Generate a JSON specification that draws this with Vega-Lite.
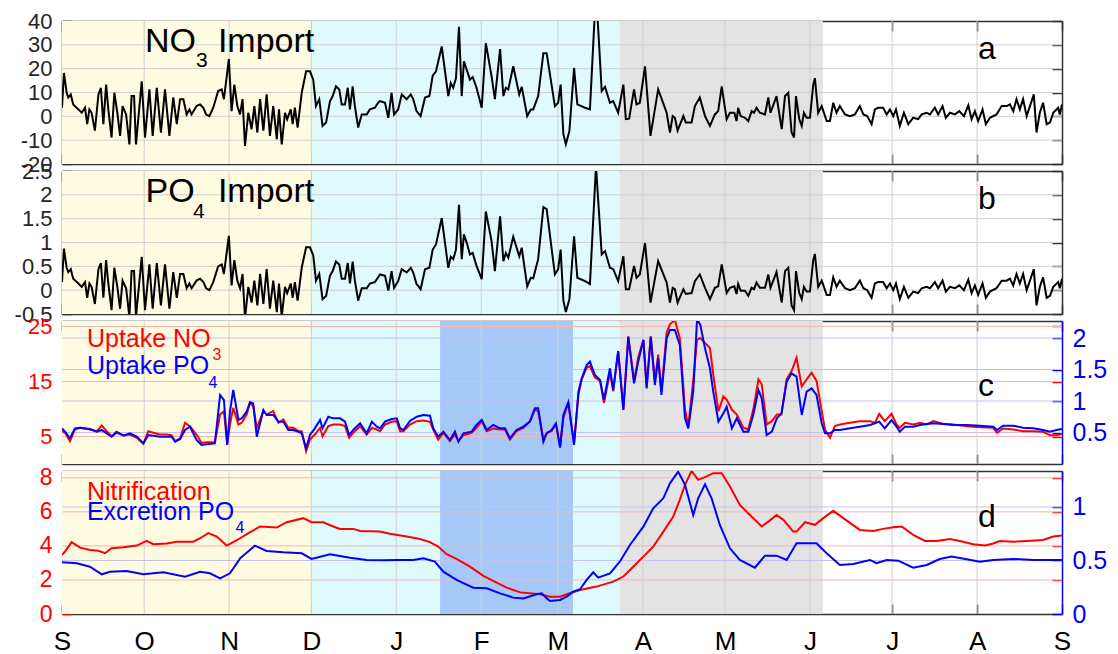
{
"$schema": "https://vega.github.io/schema/vega-lite/v6.json",
"background": "white",
"padding": {"left": 7, "top": 10, "right": 5, "bottom": 0},
"spacing": 7,
"bounds": "flush",
"config": {
  "view": {"stroke": null},
  "axis": {"grid": false, "minExtent": 0, "labelFont": "Liberation Sans", "labelFontSize": 22, "labelOverlap": false, "labelFlush": false, "labelBound": false, "tickSize": -10, "tickWidth": 1.5, "domainWidth": 1.5, "domainColor": "#333333", "tickColor": "#333333", "labelColor": "#262626", "zindex": 1, "labelPadding": 20, "labelExpr": "'' + datum.value"},
  "text": {"font": "Liberation Sans"}
},
"datasets": {
  "bg": [{"s":0,"e":91.1,"c":"#FFFBE1","k":"y"},{"s":91.1,"e":203.6,"c":"#DFFAFD","k":"c"},{"s":203.6,"e":277.7,"c":"#E3E3E3","k":"g"},{"s":138,"e":186.5,"c":"#A5C8F6","k":"b"}],
  "mon": [{"m":30},{"m":61},{"m":91},{"m":122},{"m":153},{"m":181},{"m":212},{"m":242},{"m":273},{"m":303},{"m":334}],
  "imp": [{"d":0,"n":3.6,"p":0.17},{"d":0.7,"n":18.2,"p":0.87},{"d":1.7,"n":9.9,"p":0.47},{"d":2.3,"n":7.9,"p":0.38},{"d":3.2,"n":9.2,"p":0.44},{"d":4.1,"n":5.0,"p":0.24},{"d":6.0,"n":2.9,"p":0.14},{"d":7.2,"n":1.5,"p":0.07},{"d":8.4,"n":3.6,"p":0.17},{"d":9.2,"n":-3.3,"p":-0.16},{"d":10.0,"n":2.9,"p":0.14},{"d":10.8,"n":1.5,"p":0.07},{"d":12.0,"n":-6.0,"p":-0.29},{"d":13.3,"n":9.2,"p":0.44},{"d":14.2,"n":11.9,"p":0.57},{"d":15.1,"n":-3.3,"p":-0.16},{"d":16.1,"n":13.3,"p":0.63},{"d":16.9,"n":2.9,"p":0.14},{"d":18.1,"n":-8.9,"p":-0.42},{"d":19.1,"n":9.9,"p":0.47},{"d":20.2,"n":1.5,"p":0.07},{"d":21.2,"n":-8.2,"p":-0.39},{"d":22.1,"n":4.3,"p":0.2},{"d":23.4,"n":0.8,"p":0.04},{"d":24.6,"n":-11.8,"p":-0.56},{"d":25.4,"n":8.5,"p":0.4},{"d":26.3,"n":8.5,"p":0.4},{"d":27.0,"n":-11.8,"p":-0.56},{"d":29.1,"n":14.7,"p":0.7},{"d":30.3,"n":-8.9,"p":-0.42},{"d":31.9,"n":11.3,"p":0.54},{"d":33.1,"n":-8.2,"p":-0.39},{"d":34.6,"n":12.0,"p":0.57},{"d":36.1,"n":-6.8,"p":-0.32},{"d":37.6,"n":11.3,"p":0.54},{"d":39.2,"n":-8.2,"p":-0.39},{"d":40.6,"n":7.9,"p":0.38},{"d":41.9,"n":-3.3,"p":-0.16},{"d":43.1,"n":7.2,"p":0.34},{"d":44.3,"n":7.2,"p":0.34},{"d":45.5,"n":0.8,"p":0.04},{"d":46.5,"n":2.9,"p":0.14},{"d":47.3,"n":0.8,"p":0.04},{"d":49.1,"n":4.3,"p":0.2},{"d":50.4,"n":5.0,"p":0.24},{"d":51.6,"n":3.6,"p":0.17},{"d":52.6,"n":0.8,"p":0.04},{"d":53.8,"n":0.1,"p":0.0},{"d":55.2,"n":3.6,"p":0.17},{"d":57.0,"n":10.6,"p":0.5},{"d":58.3,"n":11.3,"p":0.54},{"d":59.1,"n":7.2,"p":0.34},{"d":60.9,"n":24.0,"p":1.14},{"d":61.9,"n":2.2,"p":0.1},{"d":62.9,"n":13.3,"p":0.63},{"d":64.0,"n":4.3,"p":0.2},{"d":65.0,"n":0.8,"p":0.04},{"d":65.9,"n":7.2,"p":0.34},{"d":66.8,"n":-12.4,"p":-0.59},{"d":68.0,"n":1.5,"p":0.07},{"d":69.2,"n":-5.4,"p":-0.26},{"d":70.2,"n":4.3,"p":0.2},{"d":71.3,"n":-6.8,"p":-0.32},{"d":72.3,"n":7.2,"p":0.34},{"d":73.5,"n":-6.0,"p":-0.29},{"d":74.7,"n":9.2,"p":0.44},{"d":75.9,"n":-8.2,"p":-0.39},{"d":77.1,"n":4.3,"p":0.2},{"d":78.4,"n":-9.6,"p":-0.46},{"d":79.2,"n":2.9,"p":0.14},{"d":80.2,"n":-11.8,"p":-0.56},{"d":81.4,"n":1.5,"p":0.07},{"d":82.2,"n":-1.2,"p":-0.06},{"d":83.5,"n":2.9,"p":0.14},{"d":84.2,"n":-3.3,"p":-0.16},{"d":85.0,"n":3.6,"p":0.17},{"d":86.0,"n":-4.7,"p":-0.22},{"d":87.5,"n":9.9,"p":0.47},{"d":89.1,"n":18.9,"p":0.9},{"d":90.5,"n":18.9,"p":0.9},{"d":91.7,"n":15.4,"p":0.73},{"d":92.7,"n":4.3,"p":0.2},{"d":93.9,"n":7.2,"p":0.34},{"d":95.1,"n":-4.0,"p":-0.19},{"d":96.4,"n":-2.6,"p":-0.12},{"d":97.8,"n":6.3,"p":0.3},{"d":98.8,"n":8.5,"p":0.4},{"d":100.0,"n":12.6,"p":0.6},{"d":101.2,"n":11.3,"p":0.54},{"d":102.1,"n":5.0,"p":0.24},{"d":103.3,"n":5.0,"p":0.24},{"d":104.3,"n":12.0,"p":0.57},{"d":105.1,"n":2.9,"p":0.14},{"d":106.1,"n":12.6,"p":0.6},{"d":106.9,"n":4.3,"p":0.2},{"d":108.1,"n":-4.7,"p":-0.22},{"d":109.4,"n":0.8,"p":0.04},{"d":111.2,"n":0.8,"p":0.04},{"d":112.4,"n":2.9,"p":0.14},{"d":114.2,"n":3.6,"p":0.17},{"d":115.4,"n":5.7,"p":0.27},{"d":116.1,"n":6.4,"p":0.33},{"d":117.9,"n":5.7,"p":0.3},{"d":119.1,"n":-0.6,"p":-0.01},{"d":120.3,"n":9.9,"p":0.4},{"d":121.2,"n":0.8,"p":0.05},{"d":122.7,"n":2.9,"p":0.19},{"d":124.0,"n":9.2,"p":0.44},{"d":125.8,"n":7.2,"p":0.37},{"d":127.3,"n":9.2,"p":0.47},{"d":128.2,"n":7.2,"p":0.37},{"d":129.4,"n":2.2,"p":0.13},{"d":130.9,"n":0.1,"p":0.02},{"d":132.5,"n":7.9,"p":0.44},{"d":134.1,"n":8.5,"p":0.47},{"d":135.3,"n":17.1,"p":0.85},{"d":136.5,"n":18.9,"p":0.96},{"d":138.6,"n":29.3,"p":1.51},{"d":141.0,"n":8.5,"p":0.47},{"d":141.9,"n":14.0,"p":0.7},{"d":142.8,"n":12.0,"p":0.65},{"d":143.8,"n":16.0,"p":0.85},{"d":144.9,"n":37.6,"p":1.79},{"d":145.9,"n":8.5,"p":0.65},{"d":146.7,"n":23.1,"p":1.17},{"d":147.9,"n":18.9,"p":0.96},{"d":148.9,"n":15.4,"p":0.75},{"d":149.9,"n":16.5,"p":0.78},{"d":151.3,"n":12.0,"p":0.51},{"d":153.2,"n":3.6,"p":0.23},{"d":154.7,"n":30.7,"p":1.65},{"d":156.8,"n":16.8,"p":1.03},{"d":158.0,"n":7.2,"p":0.4},{"d":159.9,"n":28.2,"p":1.55},{"d":161.1,"n":8.5,"p":0.61},{"d":162.0,"n":12.0,"p":0.78},{"d":162.9,"n":11.3,"p":0.68},{"d":164.7,"n":21.0,"p":1.12},{"d":166.9,"n":9.2,"p":0.71},{"d":167.8,"n":12.4,"p":0.89},{"d":169.8,"n":0.1,"p":0.08},{"d":171.1,"n":2.9,"p":0.26},{"d":172.0,"n":2.9,"p":0.25},{"d":173.8,"n":8.5,"p":0.65},{"d":175.7,"n":26.5,"p":1.74},{"d":176.9,"n":26.5,"p":1.7},{"d":179.9,"n":4.3,"p":0.33},{"d":181.1,"n":5.7,"p":0.44},{"d":182.0,"n":13.3,"p":0.85},{"d":183.0,"n":-7.5,"p":-0.22},{"d":183.9,"n":-11.7,"p":-0.46},{"d":185.2,"n":-6.2,"p":-0.19},{"d":186.9,"n":20.3,"p":1.13},{"d":188.1,"n":5.0,"p":0.26},{"d":190.9,"n":3.6,"p":0.19},{"d":192.7,"n":2.9,"p":0.13},{"d":194.9,"n":53,"p":2.6},{"d":197.0,"n":10.6,"p":0.75},{"d":198.2,"n":12.4,"p":0.82},{"d":200.0,"n":5.7,"p":0.47},{"d":201.2,"n":6.4,"p":0.44},{"d":203.0,"n":1.5,"p":0.19},{"d":204.9,"n":13.3,"p":0.71},{"d":205.8,"n":-1.2,"p":0.02},{"d":207.0,"n":-1.0,"p":0.02},{"d":208.8,"n":11.3,"p":0.51},{"d":209.7,"n":5.0,"p":0.26},{"d":210.9,"n":5.7,"p":0.33},{"d":212.8,"n":21.0,"p":0.99},{"d":214.8,"n":-8.2,"p":-0.26},{"d":217.6,"n":11.3,"p":0.61},{"d":220.7,"n":1.5,"p":0.16},{"d":221.9,"n":-6.8,"p":-0.26},{"d":222.9,"n":0.1,"p":0.05},{"d":223.7,"n":-0.6,"p":0.02},{"d":224.7,"n":-6.0,"p":-0.26},{"d":226.8,"n":0.1,"p":0.02},{"d":227.7,"n":-2.6,"p":-0.08},{"d":229.8,"n":-2.6,"p":-0.06},{"d":231.0,"n":4.3,"p":0.19},{"d":232.8,"n":7.9,"p":0.33},{"d":234.7,"n":0.1,"p":0.05},{"d":236.5,"n":-4.0,"p":-0.19},{"d":238.3,"n":0.8,"p":0.05},{"d":239.5,"n":2.2,"p":0.08},{"d":240.8,"n":12.6,"p":0.54},{"d":242.6,"n":-1.2,"p":-0.06},{"d":243.8,"n":1.5,"p":0.05},{"d":245.4,"n":1.5,"p":0.08},{"d":246.2,"n":-2.0,"p":-0.08},{"d":246.8,"n":3.6,"p":0.13},{"d":247.7,"n":0.1,"p":-0.01},{"d":249.3,"n":-0.6,"p":-0.01},{"d":250.5,"n":-2.0,"p":-0.12},{"d":251.7,"n":2.2,"p":0.05},{"d":252.6,"n":1.5,"p":0.02},{"d":253.5,"n":3.6,"p":0.16},{"d":254.7,"n":1.5,"p":0.05},{"d":256.6,"n":0.8,"p":0.05},{"d":257.8,"n":7.9,"p":0.33},{"d":258.6,"n":1.5,"p":0.05},{"d":260.8,"n":8.5,"p":0.38},{"d":262.7,"n":-5.4,"p":-0.26},{"d":263.9,"n":8.5,"p":0.4},{"d":265.1,"n":9.9,"p":0.47},{"d":266.3,"n":-6.8,"p":-0.32},{"d":267.2,"n":-8.9,"p":-0.42},{"d":267.9,"n":8.5,"p":0.4},{"d":269.1,"n":-1.2,"p":-0.06},{"d":270.0,"n":-4.0,"p":-0.19},{"d":270.8,"n":1.5,"p":0.07},{"d":271.8,"n":-0.6,"p":-0.03},{"d":273.0,"n":-0.6,"p":-0.03},{"d":274.2,"n":13.3,"p":0.63},{"d":274.8,"n":16.0,"p":0.76},{"d":276.0,"n":1.5,"p":0.07},{"d":277.3,"n":4.3,"p":0.2},{"d":278.1,"n":1.5,"p":0.07},{"d":279.1,"n":-2.0,"p":-0.1},{"d":280.3,"n":-2.0,"p":-0.1},{"d":281.5,"n":5.7,"p":0.27},{"d":282.7,"n":1.5,"p":0.07},{"d":283.9,"n":4.3,"p":0.2},{"d":285.8,"n":0.8,"p":0.04},{"d":287.6,"n":0.1,"p":0.0},{"d":289.4,"n":0.8,"p":0.04},{"d":291.2,"n":4.3,"p":0.2},{"d":292.5,"n":0.8,"p":0.04},{"d":293.9,"n":0.1,"p":0.0},{"d":295.5,"n":-3.3,"p":-0.16},{"d":296.7,"n":2.9,"p":0.14},{"d":297.9,"n":3.6,"p":0.17},{"d":299.7,"n":3.6,"p":0.17},{"d":301.0,"n":0.8,"p":0.04},{"d":302.2,"n":2.9,"p":0.14},{"d":303.4,"n":0.1,"p":0.0},{"d":304.4,"n":2.9,"p":0.14},{"d":305.8,"n":-4.0,"p":-0.19},{"d":307.3,"n":1.5,"p":0.07},{"d":308.9,"n":-3.3,"p":-0.16},{"d":310.7,"n":-0.6,"p":-0.03},{"d":312.5,"n":-1.2,"p":-0.06},{"d":313.8,"n":0.8,"p":0.04},{"d":315.6,"n":1.5,"p":0.07},{"d":316.8,"n":0.8,"p":0.04},{"d":318.6,"n":3.6,"p":0.17},{"d":319.8,"n":0.8,"p":0.04},{"d":321.4,"n":4.3,"p":0.2},{"d":322.6,"n":-0.6,"p":-0.03},{"d":324.1,"n":1.5,"p":0.07},{"d":325.9,"n":0.8,"p":0.04},{"d":327.5,"n":2.2,"p":0.1},{"d":329.2,"n":0.1,"p":0.0},{"d":330.8,"n":4.6,"p":0.22},{"d":332.0,"n":-1.2,"p":-0.06},{"d":333.2,"n":2.2,"p":0.1},{"d":334.4,"n":-2.0,"p":-0.1},{"d":336.0,"n":2.9,"p":0.14},{"d":337.2,"n":-3.3,"p":-0.16},{"d":338.7,"n":-0.6,"p":-0.03},{"d":341.1,"n":0.8,"p":0.04},{"d":343.0,"n":4.3,"p":0.2},{"d":344.8,"n":4.3,"p":0.2},{"d":346.0,"n":5.0,"p":0.24},{"d":347.2,"n":2.2,"p":0.1},{"d":348.4,"n":7.2,"p":0.34},{"d":349.6,"n":2.9,"p":0.14},{"d":350.8,"n":7.2,"p":0.34},{"d":352.1,"n":0.1,"p":0.0},{"d":353.3,"n":4.3,"p":0.2},{"d":354.7,"n":9.2,"p":0.44},{"d":355.7,"n":-6.8,"p":-0.32},{"d":356.9,"n":1.5,"p":0.07},{"d":358.1,"n":5.7,"p":0.27},{"d":359.4,"n":-3.3,"p":-0.16},{"d":360.6,"n":-2.6,"p":-0.12},{"d":361.8,"n":1.5,"p":0.07},{"d":363.6,"n":3.6,"p":0.17},{"d":364.2,"n":0.8,"p":0.04},{"d":365,"n":5.0,"p":0.24}],
  "upt": [{"d":0,"r":5.97,"b":0.566},{"d":1.1,"r":5.67,"b":0.513},{"d":2.9,"r":4.15,"b":0.407},{"d":4.7,"r":6.27,"b":0.566},{"d":6.6,"r":6.58,"b":0.577},{"d":10.2,"r":6.27,"b":0.556},{"d":12.7,"r":5.97,"b":0.513},{"d":14.5,"r":7.0,"b":0.54},{"d":16.3,"r":5.97,"b":0.487},{"d":18.1,"r":5.06,"b":0.434},{"d":19.9,"r":5.67,"b":0.513},{"d":22.4,"r":5.24,"b":0.45},{"d":24.8,"r":5.36,"b":0.487},{"d":27.3,"r":4.76,"b":0.434},{"d":29.7,"r":3.67,"b":0.328},{"d":31.5,"r":5.97,"b":0.46},{"d":33.3,"r":5.67,"b":0.45},{"d":35.8,"r":5.36,"b":0.434},{"d":38.2,"r":5.36,"b":0.434},{"d":40,"r":5.24,"b":0.434},{"d":41.3,"r":4.15,"b":0.354},{"d":43.1,"r":4.64,"b":0.397},{"d":44.9,"r":7.48,"b":0.54},{"d":46.7,"r":6.88,"b":0.593},{"d":49.1,"r":5.36,"b":0.381},{"d":50.9,"r":3.85,"b":0.302},{"d":52.8,"r":3.97,"b":0.312},{"d":55.8,"r":3.97,"b":0.328},{"d":57.7,"r":9.0,"b":1.095},{"d":59.1,"r":9.6,"b":1.016},{"d":60.3,"r":3.55,"b":0.302},{"d":61.3,"r":7.18,"b":0.83},{"d":62.5,"r":10.2,"b":1.175},{"d":64.4,"r":7.18,"b":0.698},{"d":65.6,"r":7.48,"b":0.725},{"d":67.4,"r":9.0,"b":0.83},{"d":68.6,"r":11.1,"b":0.979},{"d":69.8,"r":10.5,"b":0.963},{"d":71.1,"r":6.58,"b":0.434},{"d":73.5,"r":9.6,"b":0.857},{"d":74.7,"r":9.0,"b":0.778},{"d":77.1,"r":9.6,"b":0.778},{"d":79,"r":7.48,"b":0.672},{"d":80.8,"r":8.09,"b":0.672},{"d":82.6,"r":6.58,"b":0.54},{"d":84.4,"r":6.58,"b":0.54},{"d":86.3,"r":5.97,"b":0.513},{"d":87.5,"r":5.97,"b":0.487},{"d":89.1,"r":2.33,"b":0.249},{"d":90.5,"r":4.45,"b":0.46},{"d":92.3,"r":5.36,"b":0.566},{"d":94.2,"r":6.58,"b":0.698},{"d":95.1,"r":5.06,"b":0.566},{"d":97.2,"r":6.88,"b":0.751},{"d":99,"r":7.18,"b":0.725},{"d":101.5,"r":7.18,"b":0.725},{"d":103.3,"r":6.88,"b":0.672},{"d":104.8,"r":4.76,"b":0.46},{"d":106.3,"r":5.67,"b":0.54},{"d":108.8,"r":6.88,"b":0.646},{"d":111.2,"r":5.36,"b":0.487},{"d":113.1,"r":6.58,"b":0.672},{"d":114.9,"r":6.27,"b":0.593},{"d":116.1,"r":5.97,"b":0.566},{"d":117.9,"r":7.18,"b":0.672},{"d":120.3,"r":7.67,"b":0.714},{"d":122.2,"r":7.79,"b":0.725},{"d":123.4,"r":5.97,"b":0.566},{"d":124.6,"r":5.97,"b":0.54},{"d":127,"r":7.18,"b":0.683},{"d":129.5,"r":7.79,"b":0.751},{"d":131.9,"r":7.91,"b":0.778},{"d":134.3,"r":7.67,"b":0.767},{"d":135.5,"r":6.27,"b":0.566},{"d":137.3,"r":4.45,"b":0.434},{"d":139.2,"r":5.67,"b":0.513},{"d":141.6,"r":4.15,"b":0.381},{"d":143.4,"r":5.36,"b":0.513},{"d":144.7,"r":4.15,"b":0.354},{"d":146.5,"r":5.24,"b":0.487},{"d":149.5,"r":5.67,"b":0.513},{"d":151.3,"r":6.58,"b":0.619},{"d":153.2,"r":7.79,"b":0.698},{"d":155,"r":5.97,"b":0.54},{"d":157.4,"r":6.45,"b":0.619},{"d":159.9,"r":6.27,"b":0.566},{"d":161.7,"r":6.27,"b":0.566},{"d":163.5,"r":4.45,"b":0.407},{"d":165.9,"r":5.97,"b":0.54},{"d":168.4,"r":6.58,"b":0.593},{"d":170.8,"r":7.79,"b":0.672},{"d":172.6,"r":9.9,"b":0.884},{"d":173.8,"r":9.6,"b":0.884},{"d":175.7,"r":4.45,"b":0.354},{"d":176.9,"r":5.67,"b":0.487},{"d":178.7,"r":5.97,"b":0.54},{"d":180.3,"r":7.18,"b":0.646},{"d":181.8,"r":3.24,"b":0.259},{"d":183,"r":8.39,"b":0.778},{"d":184.8,"r":11.1,"b":0.979},{"d":186.9,"r":3.85,"b":0.302},{"d":188.5,"r":12.6,"b":1.148},{"d":189.7,"r":15.4,"b":1.36},{"d":191.5,"r":17.5,"b":1.571},{"d":192.7,"r":17.8,"b":1.624},{"d":194.5,"r":15.7,"b":1.413},{"d":196.4,"r":15.1,"b":1.333},{"d":197.8,"r":11.1,"b":1.016},{"d":200,"r":16.6,"b":1.519},{"d":201.2,"r":13.2,"b":1.175},{"d":203,"r":20.5,"b":1.794},{"d":204.9,"r":9.9,"b":0.857},{"d":206.7,"r":23.2,"b":2.02},{"d":208.8,"r":15.1,"b":1.28},{"d":210.3,"r":19.3,"b":1.624},{"d":212.2,"r":22.6,"b":1.968},{"d":213.4,"r":14.1,"b":1.201},{"d":214.9,"r":23.2,"b":2.02},{"d":216.4,"r":15.1,"b":1.254},{"d":217.6,"r":19.9,"b":1.677},{"d":218.8,"r":13.2,"b":1.095},{"d":220.7,"r":23.9,"b":1.995},{"d":221.9,"r":25.4,"b":2.127},{"d":223.7,"r":26.2,"b":2.127},{"d":225.5,"r":22.9,"b":1.889},{"d":227.4,"r":9.9,"b":0.725},{"d":228.6,"r":6.88,"b":0.566},{"d":230.4,"r":15.1,"b":1.148},{"d":231.8,"r":22.6,"b":2.3},{"d":233,"r":22.9,"b":2.206},{"d":234.7,"r":22.0,"b":1.836},{"d":236.5,"r":21.1,"b":1.519},{"d":237.7,"r":16.3,"b":1.148},{"d":239.6,"r":9.6,"b":0.672},{"d":241.4,"r":12.3,"b":0.804},{"d":242.6,"r":11.7,"b":0.91},{"d":244.5,"r":9.9,"b":0.566},{"d":246.3,"r":9.0,"b":0.725},{"d":248.7,"r":6.58,"b":0.513},{"d":250.5,"r":6.27,"b":0.513},{"d":252.3,"r":9.9,"b":0.778},{"d":254.2,"r":15.4,"b":1.175},{"d":255.4,"r":14.5,"b":1.042},{"d":257.2,"r":7.18,"b":0.46},{"d":259.1,"r":7.79,"b":0.513},{"d":260.9,"r":9.0,"b":0.725},{"d":262.6,"r":9.0,"b":0.804},{"d":264.5,"r":15.4,"b":1.307},{"d":266.3,"r":16.9,"b":1.439},{"d":268.1,"r":19.3,"b":1.386},{"d":270,"r":14.1,"b":0.778},{"d":271.8,"r":15.4,"b":1.148},{"d":273.6,"r":16.6,"b":1.201},{"d":275.4,"r":15.1,"b":1.095},{"d":277.3,"r":9.6,"b":0.646},{"d":278.5,"r":6.27,"b":0.487},{"d":280.3,"r":4.76,"b":0.487},{"d":282.1,"r":6.88,"b":0.54},{"d":283.9,"r":7.18,"b":0.54},{"d":287.6,"r":7.48,"b":0.566},{"d":291.2,"r":7.79,"b":0.593},{"d":294.9,"r":7.79,"b":0.619},{"d":296.7,"r":7.48,"b":0.646},{"d":298.3,"r":9.12,"b":0.672},{"d":300.3,"r":7.79,"b":0.566},{"d":302.8,"r":9.12,"b":0.698},{"d":304.6,"r":7.18,"b":0.593},{"d":305.8,"r":6.58,"b":0.513},{"d":307.7,"r":7.48,"b":0.593},{"d":310.7,"r":7.18,"b":0.593},{"d":313.2,"r":7.48,"b":0.619},{"d":315.6,"r":7.18,"b":0.635},{"d":318.1,"r":7.79,"b":0.646},{"d":321.7,"r":7.3,"b":0.635},{"d":325.3,"r":7.18,"b":0.619},{"d":330.2,"r":6.88,"b":0.619},{"d":335,"r":6.7,"b":0.608},{"d":339.9,"r":6.58,"b":0.593},{"d":341.3,"r":5.67,"b":0.54},{"d":343.5,"r":6.45,"b":0.608},{"d":347.2,"r":6.27,"b":0.608},{"d":350.8,"r":5.97,"b":0.577},{"d":354.5,"r":5.97,"b":0.566},{"d":358.1,"r":5.85,"b":0.54},{"d":360.6,"r":5.24,"b":0.513},{"d":363,"r":5.24,"b":0.54},{"d":365,"r":5.48,"b":0.556}],
  "nd": [{"d":0,"v":3.47},{"d":1.1,"v":3.67},{"d":3.5,"v":4.22},{"d":6.6,"v":3.9},{"d":10.2,"v":3.76},{"d":13.3,"v":3.71},{"d":15.7,"v":3.57},{"d":18.1,"v":3.86},{"d":22.4,"v":3.92},{"d":27.3,"v":4.02},{"d":30.9,"v":4.29},{"d":33.3,"v":4.1},{"d":38.2,"v":4.14},{"d":41.9,"v":4.25},{"d":47.9,"v":4.25},{"d":50.4,"v":4.45},{"d":53.4,"v":4.75},{"d":56.5,"v":4.55},{"d":60.1,"v":4.02},{"d":62.5,"v":4.22},{"d":65,"v":4.45},{"d":68,"v":4.75},{"d":72.3,"v":5.14},{"d":78.4,"v":5.08},{"d":82,"v":5.39},{"d":88.1,"v":5.63},{"d":91.1,"v":5.39},{"d":95.4,"v":5.39},{"d":99,"v":5.14},{"d":101.5,"v":5.0},{"d":106.3,"v":5.0},{"d":108.8,"v":4.88},{"d":116,"v":4.84},{"d":119.7,"v":4.71},{"d":125.8,"v":4.55},{"d":130.7,"v":4.41},{"d":134.3,"v":4.22},{"d":137.3,"v":3.96},{"d":140.4,"v":3.51},{"d":144,"v":3.24},{"d":148.9,"v":2.78},{"d":153.8,"v":2.24},{"d":157.4,"v":1.94},{"d":162.3,"v":1.55},{"d":167.2,"v":1.27},{"d":170.8,"v":1.22},{"d":174.5,"v":1.16},{"d":178.1,"v":1.02},{"d":181.8,"v":1.02},{"d":184.2,"v":1.16},{"d":189.1,"v":1.41},{"d":195.1,"v":1.61},{"d":201.2,"v":1.9},{"d":204.9,"v":2.2},{"d":208.5,"v":2.78},{"d":212.2,"v":3.37},{"d":215.8,"v":3.96},{"d":219.5,"v":4.84},{"d":223.1,"v":5.72},{"d":225.5,"v":6.71},{"d":227.4,"v":7.59},{"d":229.8,"v":8.41},{"d":232.2,"v":7.88},{"d":235.3,"v":8.08},{"d":237.7,"v":8.27},{"d":240.8,"v":8.27},{"d":243.8,"v":7.49},{"d":247.4,"v":6.41},{"d":251.1,"v":5.82},{"d":255.4,"v":5.14},{"d":258.4,"v":5.5},{"d":260.8,"v":5.82},{"d":263.3,"v":5.53},{"d":266.9,"v":4.84},{"d":268.1,"v":4.84},{"d":271.2,"v":5.39},{"d":274.8,"v":5.24},{"d":277.9,"v":5.63},{"d":281.5,"v":6.06},{"d":285.2,"v":5.63},{"d":291.2,"v":4.94},{"d":296.1,"v":4.88},{"d":299.7,"v":5.0},{"d":303.4,"v":5.1},{"d":306.5,"v":5.14},{"d":310.7,"v":4.65},{"d":315,"v":4.29},{"d":319.2,"v":4.29},{"d":324.1,"v":4.41},{"d":327.7,"v":4.29},{"d":332.6,"v":4.1},{"d":336.9,"v":4.02},{"d":339.9,"v":4.14},{"d":342.3,"v":4.29},{"d":347.2,"v":4.25},{"d":352.1,"v":4.29},{"d":358.1,"v":4.35},{"d":361.8,"v":4.55},{"d":365,"v":4.61}],
  "ed": [{"d":0,"v":0.483},{"d":5.4,"v":0.474},{"d":10.2,"v":0.442},{"d":14.5,"v":0.371},{"d":17.5,"v":0.395},{"d":23.6,"v":0.402},{"d":29.7,"v":0.371},{"d":37,"v":0.39},{"d":44.9,"v":0.349},{"d":50.4,"v":0.395},{"d":54,"v":0.38},{"d":57.7,"v":0.333},{"d":61.3,"v":0.38},{"d":65,"v":0.52},{"d":70.4,"v":0.638},{"d":74.7,"v":0.589},{"d":80.8,"v":0.576},{"d":87.5,"v":0.567},{"d":91.1,"v":0.514},{"d":97.8,"v":0.558},{"d":105.1,"v":0.526},{"d":111.2,"v":0.505},{"d":117.3,"v":0.502},{"d":122.2,"v":0.505},{"d":128.2,"v":0.505},{"d":131.9,"v":0.52},{"d":136.1,"v":0.489},{"d":139.2,"v":0.395},{"d":144,"v":0.318},{"d":150.1,"v":0.246},{"d":155,"v":0.24},{"d":159.9,"v":0.193},{"d":164.7,"v":0.153},{"d":168.4,"v":0.146},{"d":173.2,"v":0.184},{"d":175.1,"v":0.193},{"d":176.9,"v":0.146},{"d":178.1,"v":0.121},{"d":181.8,"v":0.131},{"d":184.2,"v":0.162},{"d":186.6,"v":0.209},{"d":189.1,"v":0.231},{"d":191.5,"v":0.318},{"d":193.9,"v":0.39},{"d":195.7,"v":0.34},{"d":200,"v":0.38},{"d":203.6,"v":0.489},{"d":207.3,"v":0.645},{"d":212.2,"v":0.816},{"d":215.8,"v":0.988},{"d":219.5,"v":1.081},{"d":221.9,"v":1.221},{"d":224.9,"v":1.33},{"d":227.4,"v":1.206},{"d":230.4,"v":0.925},{"d":232.2,"v":1.081},{"d":234.7,"v":1.212},{"d":237.1,"v":1.081},{"d":240.1,"v":0.832},{"d":243.8,"v":0.614},{"d":247.4,"v":0.505},{"d":252.9,"v":0.433},{"d":256.6,"v":0.545},{"d":260.8,"v":0.545},{"d":264.5,"v":0.505},{"d":268.1,"v":0.66},{"d":271.8,"v":0.66},{"d":275.4,"v":0.66},{"d":279.1,"v":0.567},{"d":283.9,"v":0.458},{"d":288.8,"v":0.467},{"d":294.9,"v":0.505},{"d":297.3,"v":0.474},{"d":301,"v":0.505},{"d":305.2,"v":0.498},{"d":310.7,"v":0.433},{"d":315.6,"v":0.458},{"d":320.4,"v":0.514},{"d":324.7,"v":0.536},{"d":330.2,"v":0.511},{"d":335,"v":0.489},{"d":339.9,"v":0.505},{"d":347.2,"v":0.514},{"d":354.5,"v":0.505},{"d":365,"v":0.505}]
},
"vconcat": [
 {
  "width": 1000, "height": 143,
  "layer": [
   {"data": {"name": "bg"}, "transform": [{"filter": "datum.k != 'b'"}], "mark": {"type": "rect"},
    "encoding": {"x": {"field": "s", "type": "quantitative", "scale": {"domain": [0,365], "nice": false, "zero": false}, "axis": {"orient": "top", "values": [0,30,61,91,122,153,181,212,242,273,303,334,365], "labels": false, "title": null}}, "x2": {"field": "e"}, "color": {"field": "c", "type": "nominal", "scale": null}}},
   {"data": {"name": "mon"}, "mark": {"type": "rule", "color": "#d0d0d0", "strokeWidth": 1}, "encoding": {"x": {"field": "m", "type": "quantitative", "scale": {"domain": [0,365], "nice": false, "zero": false}, "axis": null}}},
   {"data": {"values": [{"v":-10},{"v":0},{"v":10},{"v":20},{"v":30}]}, "mark": {"type": "rule", "color": "#d0d0d0", "strokeWidth": 1}, "encoding": {"y": {"field": "v", "type": "quantitative", "scale": {"domain": [-20,40], "nice": false, "zero": false}, "axis": null}}},
   {"data": {"name": "imp"}, "mark": {"type": "line", "color": "#000000", "strokeWidth": 2, "clip": true},
    "encoding": {"x": {"field": "d", "type": "quantitative", "scale": {"domain": [0,365], "nice": false, "zero": false}, "axis": {"orient": "bottom", "values": [0,30,61,91,122,153,181,212,242,273,303,334,365], "labels": false, "title": null}},
     "y": {"field": "n", "type": "quantitative", "scale": {"domain": [-20,40], "nice": false, "zero": false}, "axis": {"orient": "left", "values": [-20,-10,0,10,20,30,40], "title": null, "minExtent": 55, "maxExtent": 55}}}},
   {"data": {"values": [{"x":30.3,"y":27.1,"t":"NO","s":34},{"x":48.9,"y":20.8,"t":"3","s":21},{"x":56.9,"y":27.1,"t":"Import","s":34},{"x":334.3,"y":24.2,"t":"a","s":32}]},
    "mark": {"type": "text", "align": "left", "baseline": "alphabetic", "color": "#000000"},
    "encoding": {"x": {"field": "x", "type": "quantitative", "scale": {"domain": [0,365], "nice": false, "zero": false}, "axis": null},
     "y": {"field": "y", "type": "quantitative", "scale": {"domain": [-20,40], "nice": false, "zero": false}, "axis": {"orient": "right", "values": [-20,-10,0,10,20,30,40], "labels": false, "title": null}},
     "text": {"field": "t"}, "size": {"field": "s", "type": "quantitative", "scale": null}}}
  ]
 },
 {
  "width": 1000, "height": 143,
  "layer": [
   {"data": {"name": "bg"}, "transform": [{"filter": "datum.k != 'b'"}], "mark": {"type": "rect"},
    "encoding": {"x": {"field": "s", "type": "quantitative", "scale": {"domain": [0,365], "nice": false, "zero": false}, "axis": {"orient": "top", "values": [0,30,61,91,122,153,181,212,242,273,303,334,365], "labels": false, "title": null}}, "x2": {"field": "e"}, "color": {"field": "c", "type": "nominal", "scale": null}}},
   {"data": {"name": "mon"}, "mark": {"type": "rule", "color": "#d0d0d0", "strokeWidth": 1}, "encoding": {"x": {"field": "m", "type": "quantitative", "scale": {"domain": [0,365], "nice": false, "zero": false}, "axis": null}}},
   {"data": {"values": [{"v":0},{"v":0.5},{"v":1},{"v":1.5},{"v":2}]}, "mark": {"type": "rule", "color": "#d0d0d0", "strokeWidth": 1}, "encoding": {"y": {"field": "v", "type": "quantitative", "scale": {"domain": [-0.5,2.5], "nice": false, "zero": false}, "axis": null}}},
   {"data": {"name": "imp"}, "mark": {"type": "line", "color": "#000000", "strokeWidth": 2, "clip": true},
    "encoding": {"x": {"field": "d", "type": "quantitative", "scale": {"domain": [0,365], "nice": false, "zero": false}, "axis": {"orient": "bottom", "values": [0,30,61,91,122,153,181,212,242,273,303,334,365], "labels": false, "title": null}},
     "y": {"field": "p", "type": "quantitative", "scale": {"domain": [-0.5,2.5], "nice": false, "zero": false}, "axis": {"orient": "left", "values": [-0.5,0,0.5,1,1.5,2,2.5], "title": null, "minExtent": 55, "maxExtent": 55}}}},
   {"data": {"values": [{"x":30.5,"y":1.854,"t":"PO","s":34},{"x":47.8,"y":1.52,"t":"4","s":21},{"x":56.9,"y":1.854,"t":"Import","s":34},{"x":334.3,"y":1.71,"t":"b","s":32}]},
    "mark": {"type": "text", "align": "left", "baseline": "alphabetic", "color": "#000000"},
    "encoding": {"x": {"field": "x", "type": "quantitative", "scale": {"domain": [0,365], "nice": false, "zero": false}, "axis": null},
     "y": {"field": "y", "type": "quantitative", "scale": {"domain": [-0.5,2.5], "nice": false, "zero": false}, "axis": {"orient": "right", "values": [-0.5,0,0.5,1,1.5,2,2.5], "labels": false, "title": null}},
     "text": {"field": "t"}, "size": {"field": "s", "type": "quantitative", "scale": null}}}
  ]
 },
 {
  "width": 1000, "height": 143,
  "resolve": {"scale": {"y": "independent"}},
  "layer": [
   {"data": {"name": "bg"}, "mark": {"type": "rect"},
    "encoding": {"x": {"field": "s", "type": "quantitative", "scale": {"domain": [0,365], "nice": false, "zero": false}, "axis": {"orient": "top", "values": [0,30,61,91,122,153,181,212,242,273,303,334,365], "labels": false, "title": null}}, "x2": {"field": "e"}, "color": {"field": "c", "type": "nominal", "scale": null}}},
   {"data": {"name": "mon"}, "mark": {"type": "rule", "color": "#d0d0d0", "strokeWidth": 1}, "encoding": {"x": {"field": "m", "type": "quantitative", "scale": {"domain": [0,365], "nice": false, "zero": false}, "axis": null}}},
   {"data": {"values": [{"v":5},{"v":15},{"v":25}]}, "mark": {"type": "rule", "color": "#f2b6b6", "strokeWidth": 1}, "encoding": {"y": {"field": "v", "type": "quantitative", "scale": {"domain": [0,26], "nice": false, "zero": false}, "axis": {"orient": "right", "values": [5,15,25], "labels": false, "domain": false, "tickColor": "#ff0000", "title": null}}}},
   {"data": {"values": [{"v":0.5},{"v":1},{"v":1.5},{"v":2}]}, "mark": {"type": "rule", "color": "#c2c2ee", "strokeWidth": 1}, "encoding": {"y": {"field": "v", "type": "quantitative", "scale": {"domain": [0,2.27], "nice": false, "zero": false}, "axis": null}}},
   {"data": {"name": "upt"}, "mark": {"type": "line", "color": "#ff0000", "strokeWidth": 2, "clip": true},
    "encoding": {"x": {"field": "d", "type": "quantitative", "scale": {"domain": [0,365], "nice": false, "zero": false}, "axis": {"orient": "bottom", "values": [0,30,61,91,122,153,181,212,242,273,303,334,365], "labels": false, "title": null}},
     "y": {"field": "r", "type": "quantitative", "scale": {"domain": [0,26], "nice": false, "zero": false}, "axis": {"orient": "left", "values": [5,15,25], "labelColor": "#ff0000", "tickColor": "#ff0000", "domainColor": "#ff4040", "domainWidth": 1, "title": null, "minExtent": 55, "maxExtent": 55}}}},
   {"data": {"name": "upt"}, "mark": {"type": "line", "color": "#0000ff", "strokeWidth": 2, "clip": true},
    "encoding": {"x": {"field": "d", "type": "quantitative", "scale": {"domain": [0,365], "nice": false, "zero": false}, "axis": null},
     "y": {"field": "b", "type": "quantitative", "scale": {"domain": [0,2.27], "nice": false, "zero": false}, "axis": {"orient": "right", "values": [0.5,1,1.5,2], "labelColor": "#0000ff", "tickColor": "#0000ff", "domainColor": "#0000ff", "labelFontSize": 25, "title": null}}}},
   {"data": {"values": [{"x":9.1,"y":21.2,"t":"Uptake NO","s":25,"c":"#ff0000"},{"x":54.9,"y":19.0,"t":"3","s":16,"c":"#ff0000"},{"x":9.1,"y":16.3,"t":"Uptake PO","s":25,"c":"#0000ff"},{"x":53.5,"y":13.9,"t":"4","s":16,"c":"#0000ff"},{"x":334.3,"y":12.3,"t":"c","s":32,"c":"#000000"}]},
    "mark": {"type": "text", "align": "left", "baseline": "alphabetic"},
    "encoding": {"x": {"field": "x", "type": "quantitative", "scale": {"domain": [0,365], "nice": false, "zero": false}, "axis": null},
     "y": {"field": "y", "type": "quantitative", "scale": {"domain": [0,26], "nice": false, "zero": false}, "axis": null},
     "text": {"field": "t"}, "size": {"field": "s", "type": "quantitative", "scale": null}, "color": {"field": "c", "type": "nominal", "scale": null}}}
  ]
 },
 {
  "width": 1000, "height": 143,
  "resolve": {"scale": {"y": "independent"}},
  "layer": [
   {"data": {"name": "bg"}, "mark": {"type": "rect"},
    "encoding": {"x": {"field": "s", "type": "quantitative", "scale": {"domain": [0,365], "nice": false, "zero": false}, "axis": {"orient": "top", "values": [0,30,61,91,122,153,181,212,242,273,303,334,365], "labels": false, "title": null}}, "x2": {"field": "e"}, "color": {"field": "c", "type": "nominal", "scale": null}}},
   {"data": {"name": "mon"}, "mark": {"type": "rule", "color": "#d0d0d0", "strokeWidth": 1}, "encoding": {"x": {"field": "m", "type": "quantitative", "scale": {"domain": [0,365], "nice": false, "zero": false}, "axis": null}}},
   {"data": {"values": [{"v":2},{"v":4},{"v":6},{"v":8}]}, "mark": {"type": "rule", "color": "#f2b6b6", "strokeWidth": 1}, "encoding": {"y": {"field": "v", "type": "quantitative", "scale": {"domain": [0,8.4], "nice": false, "zero": false}, "axis": {"orient": "right", "values": [2,4,6,8], "labels": false, "domain": false, "tickColor": "#ff0000", "title": null}}}},
   {"data": {"values": [{"v":0.5},{"v":1}]}, "mark": {"type": "rule", "color": "#c2c2ee", "strokeWidth": 1}, "encoding": {"y": {"field": "v", "type": "quantitative", "scale": {"domain": [0,1.336], "nice": false, "zero": false}, "axis": null}}},
   {"data": {"name": "nd"}, "mark": {"type": "line", "color": "#ff0000", "strokeWidth": 2, "clip": true},
    "encoding": {"x": {"field": "d", "type": "quantitative", "scale": {"domain": [0,365], "nice": false, "zero": false}, "axis": {"orient": "bottom", "values": [0,30,61,91,122,153,181,212,242,273,303,334,365], "title": null, "labelFontSize": 26, "labelPadding": 24, "labelColor": "#000000", "labelExpr": "['S','O','N','D','J','F','M','A','M','J','J','A','S'][indexof([0,30,61,91,122,153,181,212,242,273,303,334,365], datum.value)]"}},
     "y": {"field": "v", "type": "quantitative", "scale": {"domain": [0,8.4], "nice": false, "zero": false}, "axis": {"orient": "left", "values": [0,2,4,6,8], "labelColor": "#ff0000", "tickColor": "#ff0000", "domainColor": "#ff4040", "domainWidth": 1, "labelFontSize": 23, "title": null, "minExtent": 55, "maxExtent": 55}}}},
   {"data": {"name": "ed"}, "mark": {"type": "line", "color": "#0000ff", "strokeWidth": 2, "clip": true},
    "encoding": {"x": {"field": "d", "type": "quantitative", "scale": {"domain": [0,365], "nice": false, "zero": false}, "axis": null},
     "y": {"field": "v", "type": "quantitative", "scale": {"domain": [0,1.336], "nice": false, "zero": false}, "axis": {"orient": "right", "values": [0,0.5,1], "labelColor": "#0000ff", "tickColor": "#0000ff", "domainColor": "#0000ff", "labelFontSize": 25, "title": null}}}},
   {"data": {"values": [{"x":9.1,"y":6.7,"t":"Nitrification","s":25,"c":"#ff0000"},{"x":9.1,"y":5.53,"t":"Excretion PO","s":25,"c":"#0000ff"},{"x":63.3,"y":4.76,"t":"4","s":16,"c":"#0000ff"},{"x":334.3,"y":5.12,"t":"d","s":32,"c":"#000000"}]},
    "mark": {"type": "text", "align": "left", "baseline": "alphabetic"},
    "encoding": {"x": {"field": "x", "type": "quantitative", "scale": {"domain": [0,365], "nice": false, "zero": false}, "axis": null},
     "y": {"field": "y", "type": "quantitative", "scale": {"domain": [0,8.4], "nice": false, "zero": false}, "axis": null},
     "text": {"field": "t"}, "size": {"field": "s", "type": "quantitative", "scale": null}, "color": {"field": "c", "type": "nominal", "scale": null}}}
  ]
 }
]
}
